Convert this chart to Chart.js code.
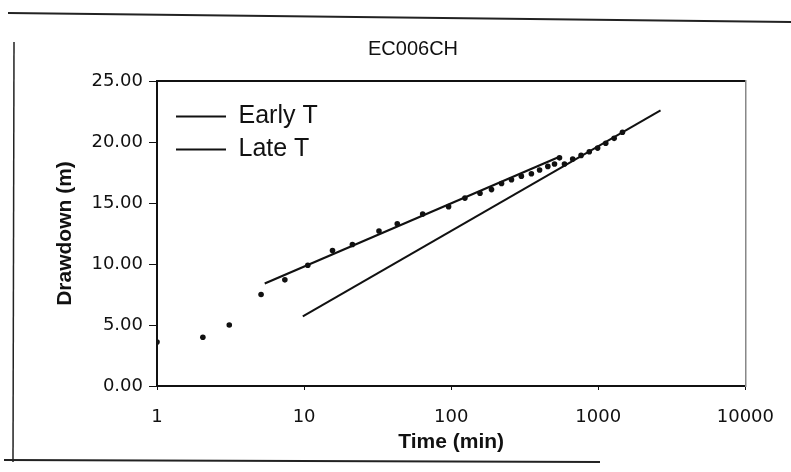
<!DOCTYPE html>
<html>
<head>
<meta charset="utf-8">
<script src="https://cdn.jsdelivr.net/npm/chart.js@4/dist/chart.umd.min.js"></script>
<style>
  html, body { margin: 0; padding: 0; background: #fff; }
  #c { display: block; }
</style>
</head>
<body>
<canvas id="c" width="791" height="472"></canvas>
<script>
// ---- data ----
const chartTitle = 'EC006CH';
const xTitle = 'Time (min)';
const yTitle = 'Drawdown (m)';

const times    = [1, 2.05, 3.1, 5.1, 7.4, 10.6, 15.6, 21.3, 32.3, 43, 64, 96, 124, 157, 188, 220, 257, 300, 351, 399, 454, 504, 545, 589, 670, 764, 869, 990, 1124, 1282, 1460];
const drawdown = [3.6, 4.0, 5.0, 7.5, 8.7, 9.9, 11.1, 11.6, 12.7, 13.3, 14.1, 14.7, 15.4, 15.8, 16.1, 16.6, 16.9, 17.2, 17.4, 17.7, 18.0, 18.2, 18.7, 18.2, 18.6, 18.9, 19.2, 19.5, 19.9, 20.3, 20.8];

const earlyTimes = [5.4, 545];
const earlyValues = [8.4, 18.8];
const lateTimes = [9.8, 2650];
const lateValues = [5.7, 22.6];

const xTickValues = [1, 10, 100, 1000, 10000];
const xTickLabels = ['1', '10', '100', '1000', '10000'];
const yTickValues = [0, 5, 10, 15, 20, 25];
const yTickLabels = ['0.00', '5.00', '10.00', '15.00', '20.00', '25.00'];

const toXY = (xs, ys) => xs.map((x, i) => ({ x: x, y: ys[i] }));

const frame = {
  id: 'frame',
  beforeDraw(chart) {
    const ctx = chart.ctx;
    ctx.save();
    ctx.fillStyle = '#fff';
    ctx.fillRect(0, 0, chart.width, chart.height);
    ctx.strokeStyle = '#222';
    ctx.lineWidth = 2;
    ctx.beginPath(); ctx.moveTo(8, 13); ctx.lineTo(791, 22); ctx.stroke();
    ctx.lineWidth = 1.5;
    ctx.beginPath(); ctx.moveTo(14, 42); ctx.lineTo(13, 462); ctx.stroke();
    ctx.lineWidth = 2;
    ctx.beginPath(); ctx.moveTo(4, 460); ctx.lineTo(600, 462); ctx.stroke();
    ctx.restore();
  }
};

const legendPlace = {
  id: 'legendPlace',
  afterLayout(chart) {
    const lg = chart.legend;
    const ca = chart.chartArea;
    if (!lg) return;
    const w = lg.width, h = lg.height;
    lg.left = ca.left + 11;
    lg.top = ca.top + 15;
    lg.right = lg.left + w;
    lg.bottom = lg.top + h;
  }
};

new Chart(document.getElementById('c'), {
  data: {
    datasets: [
      {
        type: 'line',
        label: 'Early T',
        data: toXY(earlyTimes, earlyValues),
        borderColor: '#111',
        backgroundColor: '#111',
        borderWidth: 2.2,
        pointRadius: 0,
        fill: false,
        tension: 0
      },
      {
        type: 'line',
        label: 'Late T',
        data: toXY(lateTimes, lateValues),
        borderColor: '#111',
        backgroundColor: '#111',
        borderWidth: 2,
        pointRadius: 0,
        fill: false,
        tension: 0
      },
      {
        type: 'scatter',
        label: 'Data',
        data: toXY(times, drawdown),
        borderColor: '#111',
        backgroundColor: '#111',
        pointRadius: 2.8,
        pointBorderWidth: 0,
        showLine: false
      }
    ]
  },
  options: {
    responsive: false,
    animation: false,
    layout: { padding: { left: 45, right: 10, top: 0, bottom: 0 } },
    plugins: {
      title: {
        display: true,
        text: chartTitle,
        color: '#111',
        font: { family: "'Liberation Sans', Arial, sans-serif", size: 20, weight: 'normal' },
        padding: { top: 37, bottom: 20 }
      },
      legend: {
        display: true,
        position: 'chartArea',
        align: 'start',
        labels: {
          color: '#111',
          font: { family: "'Liberation Sans', Arial, sans-serif", size: 25 },
          usePointStyle: true,
          pointStyle: 'line',
          pointStyleWidth: 50,
          padding: 8,
          filter: (item) => item.text !== 'Data'
        }
      },
      tooltip: { enabled: false }
    },
    scales: {
      x: {
        type: 'logarithmic',
        position: 'bottom',
        min: 1,
        max: 10000,
        afterBuildTicks: (s) => { s.ticks = xTickValues.map(v => ({ value: v })); },
        afterFit: (s) => { s.height = 86; },
        ticks: {
          color: '#111',
          font: { family: "'DejaVu Sans', sans-serif", size: 18 },
          padding: 17,
          maxRotation: 0,
          autoSkip: false,
          callback: (v, i) => xTickLabels[i]
        },
        grid: { display: true, drawOnChartArea: false, drawTicks: true, tickLength: 4, color: '#111', tickColor: '#111' },
        border: { display: true, color: '#111', width: 2 },
        title: {
          display: true,
          text: xTitle,
          color: '#111',
          font: { family: "'Liberation Sans', Arial, sans-serif", size: 21, weight: 'bold' },
          padding: { top: 0, bottom: 17 }
        }
      },
      y: {
        type: 'linear',
        position: 'left',
        min: 0,
        max: 25,
        afterBuildTicks: (s) => { s.ticks = yTickValues.map(v => ({ value: v })); },
        afterFit: (s) => { s.width = 112; },
        ticks: {
          color: '#111',
          font: { family: "'DejaVu Sans', sans-serif", size: 18 },
          padding: 6,
          callback: (v, i) => yTickLabels[i]
        },
        grid: { display: true, drawOnChartArea: false, drawTicks: true, tickLength: 8, color: '#111', tickColor: '#111' },
        border: { display: true, color: '#111', width: 2 },
        title: {
          display: true,
          text: yTitle,
          color: '#111',
          font: { family: "'Liberation Sans', Arial, sans-serif", size: 21, weight: 'bold' },
          padding: { top: 8, bottom: 0 }
        }
      },
      x2: {
        type: 'linear',
        position: 'top',
        display: true,
        afterFit: (s) => { s.height = 0; },
        ticks: { display: false },
        grid: { display: false },
        border: { display: true, color: '#111', width: 2 }
      },
      y2: {
        type: 'linear',
        position: 'right',
        display: true,
        afterFit: (s) => { s.width = 34; },
        ticks: { display: false },
        grid: { display: false },
        border: { display: true, color: '#888', width: 1.5, dash: [3, 3] }
      }
    }
  },
  plugins: [frame, legendPlace]
});
</script>
</body>
</html>
